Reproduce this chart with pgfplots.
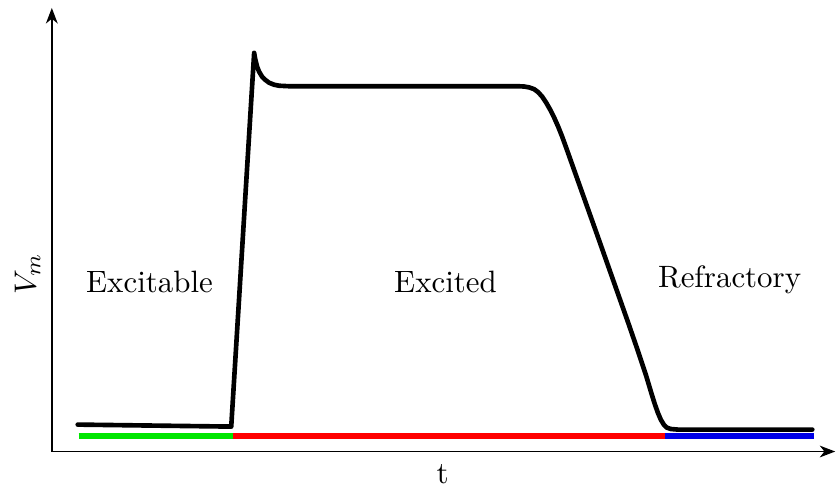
\documentclass[border=0pt]{standalone}
\usepackage{pgfplots}
\pgfplotsset{compat=1.18}
\usetikzlibrary{arrows.meta}

\definecolor{phasegreen}{RGB}{0,230,0}
\definecolor{phasered}{RGB}{255,0,0}
\definecolor{phaseblue}{RGB}{0,0,230}

\begin{document}
\begin{tikzpicture}
\begin{axis}[
  x=0.3226pt, y=0.3226pt,
  xmin=52, xmax=838, ymin=0, ymax=445,
  axis lines=left,
  axis line style={line width=0.5pt, -{Stealth[length=5pt, width=3.8pt, inset=1.5pt]}},
  ticks=none,
  clip=false,
  xlabel={t},
  ylabel={$V_m$},
  xlabel style={at={(axis description cs:0.499,-0.005)}, anchor=north},
  ylabel style={at={(axis description cs:-0.031,0.40)}, anchor=center},
]
% membrane potential: resting level, upstroke, spike, plateau, repolarisation
\addplot[black, line width=1.5pt, line join=round, line cap=round] coordinates {
  (78,27) (232,25) (255,400)
  (256,394) (258,386) (260,381) (263,376) (266,373) (270,370) (275,368)
  (280,367) (290,366.5) (520,366.5)
  (526,366.2) (531,365.3) (536,363.5) (540,360.5) (544,356) (548,350)
  (552,343) (556,335) (560,326) (564,316) (568,305)
  (600,215) (630,130) (640,101) (645,86)
  (648,77) (651,67) (654,57) (657,47.5) (660,39) (663,32) (666,27)
  (669,24) (673,22.6) (680,22) (815,22)
};
% phase bars along the time axis
\addplot[phasegreen, line width=1.9pt] coordinates {(79,16) (234,16)};
\addplot[phasered,   line width=1.9pt] coordinates {(234,16) (667,16)};
\addplot[phaseblue,  line width=1.9pt] coordinates {(667,16) (817,16)};

\node at (axis cs:150,170) {Excitable};
\node at (axis cs:447,170) {Excited};
\node at (axis cs:732,172) {Refractory};

\path[use as bounding box] (axis cs:0,-26) rectangle (axis cs:836,453);
\end{axis}
\end{tikzpicture}
\end{document}
